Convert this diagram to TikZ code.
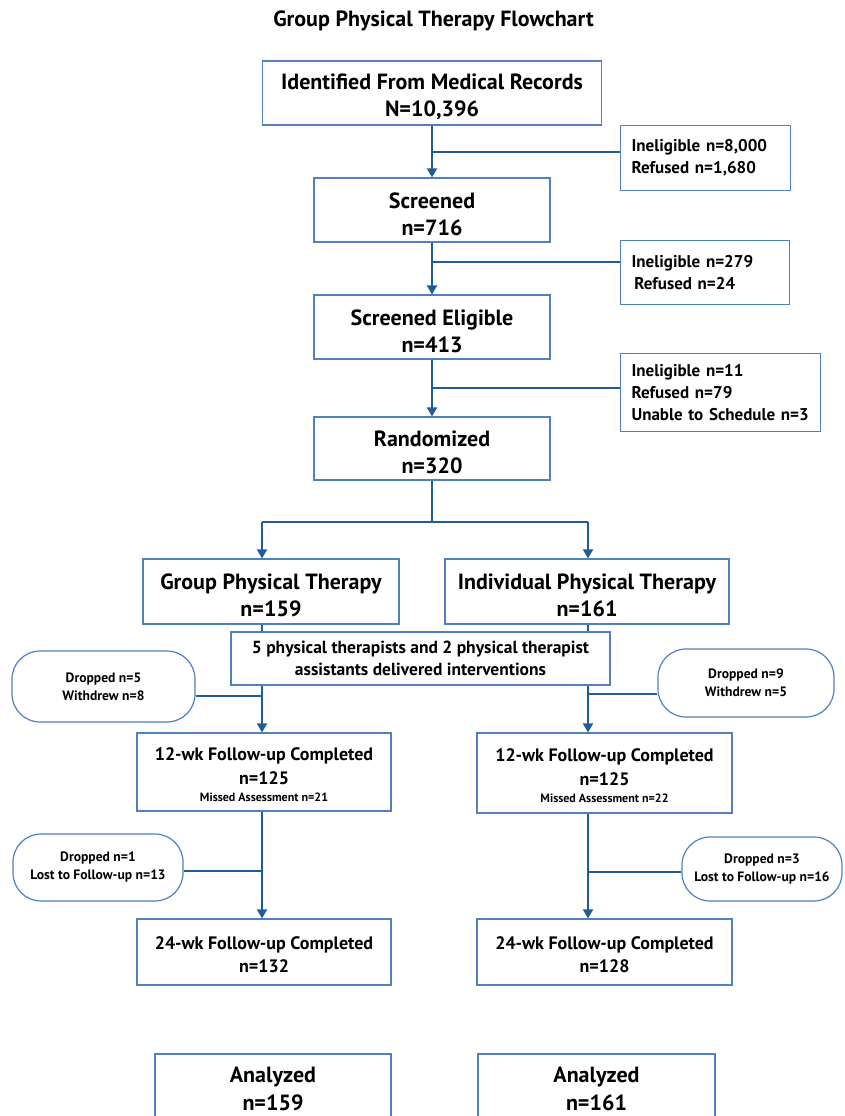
\documentclass[tikz,border=0pt]{standalone}
\usepackage{fontspec}
\setmainfont{PT Sans}
\usetikzlibrary{positioning,arrows.meta}
\definecolor{boxEdge}{HTML}{4F81BD}
\definecolor{linkBlue}{HTML}{1F5C99}
\newcommand{\capstrut}{\rule{0pt}{24pt}}
\newcommand{\fustrut}{\rule{0pt}{18pt}}

\begin{document}
\begin{tikzpicture}[
    x=1pt, y=-1pt,
    mainbox/.style = {draw=boxEdge, line width=1.2pt, fill=white, align=center, inner sep=0pt,
                      font=\bfseries\fontsize{22}{27}\selectfont},
    fubox/.style   = {mainbox, font=\bfseries\fontsize{18}{24}\selectfont},
    sidebox/.style = {draw=boxEdge, line width=1.2pt, fill=white, align=left, anchor=north west,
                      inner xsep=11pt, inner ysep=0pt, font=\bfseries\fontsize{17}{22}\selectfont},
    notebox/.style = {draw=boxEdge, line width=1.2pt, fill=white, align=center, inner sep=0pt,
                      font=\bfseries\fontsize{17.5}{22}\selectfont},
    dropbox/.style = {draw=boxEdge, line width=1.2pt, fill=white, align=center, inner sep=0pt,
                      rounded corners=28pt, font=\bfseries\fontsize{13.6}{18}\selectfont},
    titletxt/.style = {font=\bfseries\fontsize{22}{26}\selectfont},
    link/.style    = {draw=linkBlue, line width=2pt},
    arrowln/.style = {link, -{Triangle[length=9pt,width=10pt]}}
  ]
  \useasboundingbox (0,0) rectangle (844,1116);

  \node[titletxt] (title) at (433.5,21) {Group Physical Therapy Flowchart};

  %% screening column
  \node[mainbox, minimum width=339, minimum height=64] (ident)  at (432,93)    {\capstrut Identified From Medical Records\\N=10,396};
  \node[mainbox, minimum width=236, minimum height=64] (screen) at (432,210)   {\capstrut Screened\\n=716};
  \node[mainbox, minimum width=236, minimum height=64] (elig)   at (432,327)   {\capstrut Screened Eligible\\n=413};
  \node[mainbox, minimum width=236, minimum height=63] (rand)   at (432,448.5) {\capstrut Randomized\\n=320};

  %% exclusions on the right
  \node[sidebox, text width=148, minimum height=65] (excl1) at (620,125) {Ineligible n=8,000\\Refused n=1,680};
  \node[sidebox, text width=147, minimum height=64] (excl2) at (620,240) {Ineligible n=279\\\,Refused n=24};
  \node[sidebox, text width=178, minimum height=78] (excl3) at (620,353) {Ineligible n=11\\Refused n=79\\Unable to Schedule n=3};

  \coordinate (j1) at (432,152);
  \coordinate (j2) at (432,262);
  \coordinate (j3) at (432,388);
  \draw[arrowln] (ident) -- (screen);
  \draw[arrowln] (screen) -- (elig);
  \draw[arrowln] (elig) -- (rand);
  \draw[link] (j1) -- (j1 -| excl1.west);
  \draw[link] (j2) -- (j2 -| excl2.west);
  \draw[link] (j3) -- (j3 -| excl3.west);

  %% randomization split
  \node[mainbox, minimum width=256, minimum height=65] (gpt) at (271,591.5) {\capstrut Group Physical Therapy\\n=159};
  \node[mainbox, minimum width=284, minimum height=65] (ipt) at (587,591.5) {\capstrut Individual Physical Therapy\\n=161};
  \coordinate (split)  at (432,522);
  \coordinate (gsplit) at (262,522);
  \coordinate (isplit) at (588,522);
  \draw[link] (rand) -- (split);
  \draw[link] (gsplit) -- (isplit);
  \draw[arrowln] (gsplit) -- (gsplit |- gpt.north);
  \draw[arrowln] (isplit) -- (isplit |- ipt.north);

  %% follow-up boxes
  \node[fubox, minimum width=254, minimum height=78] (fu12g) at (264,772)
    {\fustrut 12-wk Follow-up Completed\\n=125\\[-7pt]{\fontsize{12}{14}\selectfont Missed Assessment n=21}};
  \node[fubox, minimum width=255, minimum height=80] (fu12i) at (604.5,773)
    {\fustrut 12-wk Follow-up Completed\\n=125\\[-7pt]{\fontsize{12}{14}\selectfont Missed Assessment n=22}};
  \node[fubox, minimum width=254, minimum height=66] (fu24g) at (264,952)   {\fustrut 24-wk Follow-up Completed\\[-1pt]n=132};
  \node[fubox, minimum width=255, minimum height=66] (fu24i) at (604.5,952) {\fustrut 24-wk Follow-up Completed\\[-1pt]n=128};
  \node[mainbox, minimum width=236, minimum height=70] (ang) at (273,1089)   {Analyzed\\[1pt]n=159};
  \node[mainbox, minimum width=237, minimum height=70] (ani) at (596.5,1089) {Analyzed\\[1pt]n=161};

  %% losses
  \node[dropbox, minimum width=183, minimum height=71] (dropg1) at (103.5,686.5) {Dropped n=5\\Withdrew n=8};
  \node[dropbox, minimum width=176, minimum height=68] (dropi1) at (746,683)     {Dropped n=9\\Withdrew n=5};
  \node[dropbox, minimum width=170, minimum height=67] (dropg2) at (98,867.5)    {Dropped n=1\\Lost to Follow-up n=13};
  \node[dropbox, minimum width=160, minimum height=64] (dropi2) at (762,869)     {Dropped n=3\\Lost to Follow-up n=16};

  \coordinate (gl1) at (262,696);
  \coordinate (il1) at (588,694);
  \coordinate (gl2) at (262,871);
  \coordinate (il2) at (588,872);
  \draw[arrowln] (gpt.south -| gsplit) -- (gsplit |- fu12g.north);
  \draw[arrowln] (ipt.south -| isplit) -- (isplit |- fu12i.north);
  \draw[link] (dropg1.east |- gl1) -- (gl1);
  \draw[link] (dropi1.west |- il1) -- (il1);
  \draw[arrowln] (fu12g.south -| gsplit) -- (gsplit |- fu24g.north);
  \draw[arrowln] (fu12i.south -| isplit) -- (isplit |- fu24i.north);
  \draw[link] (dropg2.east |- gl2) -- (gl2);
  \draw[link] (dropi2.west |- il2) -- (il2);

  %% staff note sits over the two lines
  \node[notebox, minimum width=379, minimum height=53] (staff) at (420.5,658.5)
    {5 physical therapists and 2 physical therapist\\assistants delivered interventions};
\end{tikzpicture}
\end{document}
